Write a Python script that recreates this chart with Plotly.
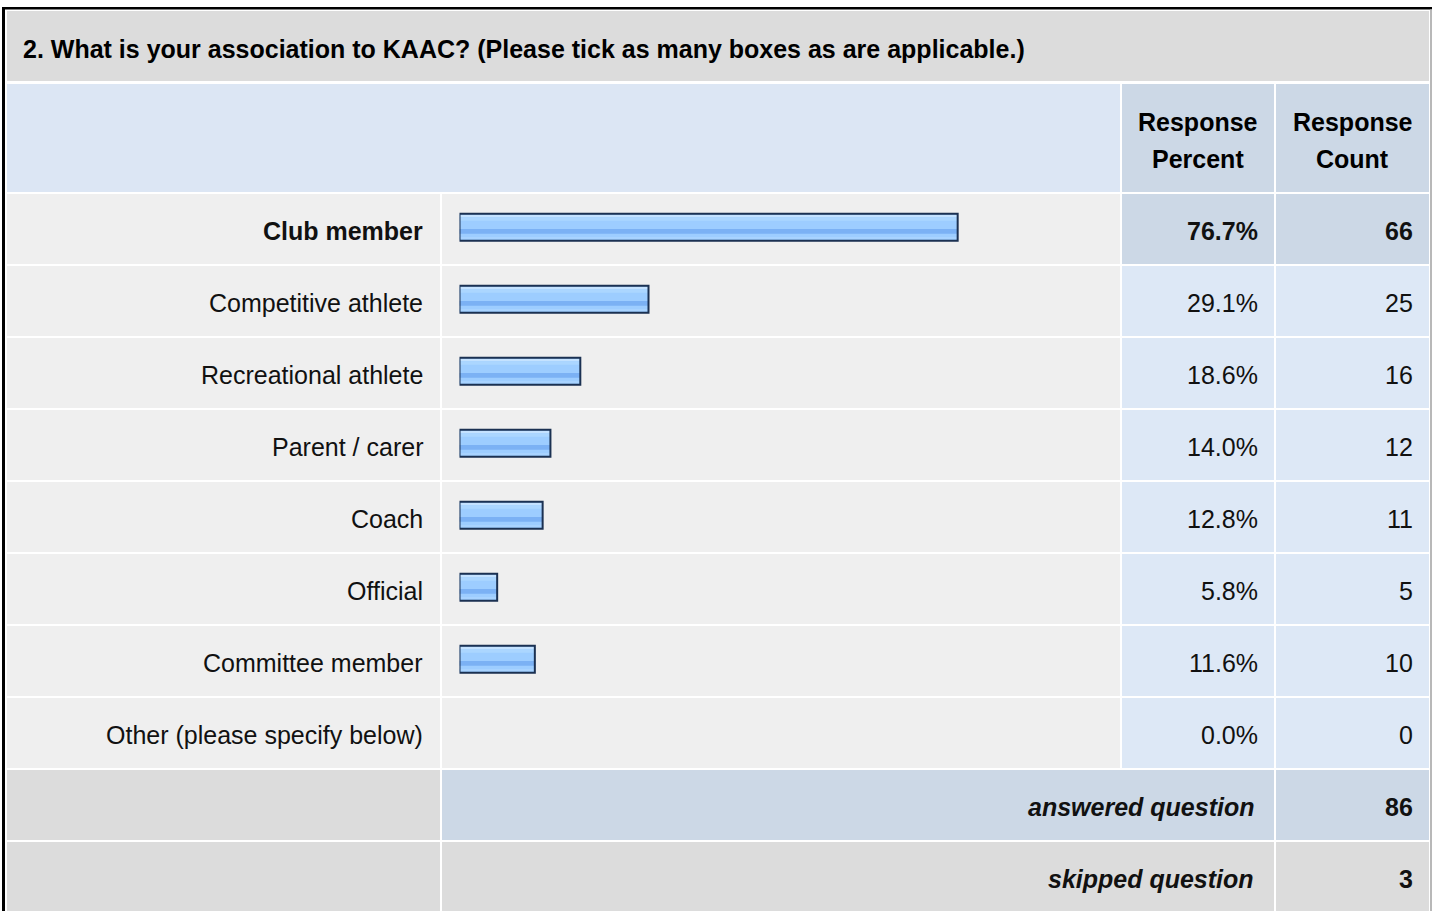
import plotly.graph_objects as go

# ---------------- data ----------------
title_text = "2. What is your association to KAAC? (Please tick as many boxes as are applicable.)"
categories = ["Club member", "Competitive athlete", "Recreational athlete", "Parent / carer",
              "Coach", "Official", "Committee member", "Other (please specify below)"]
percents = [76.7, 29.1, 18.6, 14.0, 12.8, 5.8, 11.6, 0.0]
counts = [66, 25, 16, 12, 11, 5, 10, 0]
header_cols = [["Response", "Percent"], ["Response", "Count"]]
summary_labels = ["answered question", "skipped question"]
summary_values = [86, 3]

# ---------------- layout geometry (pixels) ----------------
W, H = 1432, 911
FONT = "Liberation Sans, Arial, sans-serif"
FS = 25
COL_LABEL = (7, 440)
COL_BAR = (442, 1120)
COL_PCT = (1122, 1274)
COL_CNT = (1276, 1429)
TITLE_Y = (11, 81)
HEAD_Y = (84, 192)
ROW0 = 194
PITCH = 72
CELL_H = 70
PAD = 3  # annotation inner padding compensation

GRAY = "#DCDCDC"
LIGHT = "#EFEFEF"
HEAD_BLUE = "#DCE6F4"
DARK_BLUE = "#CCD8E6"
PALE_BLUE = "#DDE8F6"

hi = counts.index(max(counts))


def px(x):
    return x / W


shapes = []


def cell(x0, x1, y0, y1, color):
    shapes.append(dict(type="rect", xref="paper", yref="y", x0=px(x0), x1=px(x1), y0=y0, y1=y1,
                       fillcolor=color, line=dict(width=0), layer="below"))


# outer border
shapes.append(dict(type="rect", xref="paper", yref="y", x0=px(2), x1=px(5), y0=7, y1=H,
                   fillcolor="#000000", line=dict(width=0), layer="below"))
shapes.append(dict(type="rect", xref="paper", yref="y", x0=px(2), x1=px(1432), y0=7, y1=9.5,
                   fillcolor="#000000", line=dict(width=0), layer="below"))
shapes.append(dict(type="rect", xref="paper", yref="y", x0=px(1430), x1=px(1432), y0=9.5, y1=H,
                   fillcolor="#B8B8B8", line=dict(width=0), layer="below"))

# title row
cell(COL_LABEL[0], COL_CNT[1], TITLE_Y[0], TITLE_Y[1], GRAY)
# header row
cell(COL_LABEL[0], COL_BAR[1], HEAD_Y[0], HEAD_Y[1], HEAD_BLUE)
cell(COL_PCT[0], COL_PCT[1], HEAD_Y[0], HEAD_Y[1], DARK_BLUE)
cell(COL_CNT[0], COL_CNT[1], HEAD_Y[0], HEAD_Y[1], DARK_BLUE)

annotations = []


def text(x, y, s, anchor="right", bold=False, italic=False, size=FS, color="#111111"):
    t = s
    if bold:
        t = "<b>" + t + "</b>"
    if italic:
        t = "<i>" + t + "</i>"
    if anchor == "right":
        x = x + PAD
    elif anchor == "left":
        x = x - PAD
    annotations.append(dict(xref="paper", yref="y", x=px(x), y=y, text=t, showarrow=False,
                            xanchor=anchor, yanchor="middle",
                            font=dict(family=FONT, size=size, color=color)))


text(24, 49, title_text, anchor="left", bold=True, color="#000000")
for j, (col, lines) in enumerate(zip([COL_PCT, COL_CNT], header_cols)):
    cx = (col[0] + col[1]) / 2
    text(cx, 122, lines[0], anchor="center", bold=True, color="#000000")
    text(cx, 159, lines[1], anchor="center", bold=True, color="#000000")

row_centers = []
for i, (cat, p, c) in enumerate(zip(categories, percents, counts)):
    y0 = ROW0 + PITCH * i
    y1 = y0 + CELL_H
    yc = (y0 + y1) / 2
    row_centers.append(yc)
    cell(COL_LABEL[0], COL_LABEL[1], y0, y1, LIGHT)
    cell(COL_BAR[0], COL_BAR[1], y0, y1, LIGHT)
    bcol = DARK_BLUE if i == hi else PALE_BLUE
    cell(COL_PCT[0], COL_PCT[1], y0, y1, bcol)
    cell(COL_CNT[0], COL_CNT[1], y0, y1, bcol)
    b = (i == hi)
    text(422, yc + 1.5, cat, bold=b)
    text(1257, yc + 1.5, f"{p:.1f}%", bold=b)
    text(1412, yc + 1.5, str(c), bold=b)

# summary rows
n = len(categories)
for k, (lab, val) in enumerate(zip(summary_labels, summary_values)):
    y0 = ROW0 + PITCH * (n + k)
    y1 = y0 + CELL_H
    yc = (y0 + y1) / 2
    mid = DARK_BLUE if k == 0 else GRAY
    cell(COL_LABEL[0], COL_LABEL[1], y0, y1, GRAY)
    cell(COL_BAR[0], COL_PCT[1], y0, y1, mid)
    cell(COL_CNT[0], COL_CNT[1], y0, y1, mid)
    text(1253, yc + 1.5, lab, bold=True, italic=True)
    text(1412, yc + 1.5, str(val), bold=True)

# ---------------- bars ----------------
bx = [p for p in percents if p > 0]
by = [row_centers[i] - 1.8 for i, p in enumerate(percents) if p > 0]

fig = go.Figure()
layers = [
    # (offset, width, color)
    (-13.5, 27.0, "#9DCDFF"),
    (-12.2, 2.3, "#C4E2FF"),
    (-9.9, 3.4, "#ABD6FF"),
    (1.8, 4.7, "#7BB1F4"),
    (9.8, 2.3, "#A8D3FF"),
]
for off, w, col in layers:
    fig.add_trace(go.Bar(x=bx, y=by, orientation="h", offset=off, width=w,
                         marker=dict(color=col, line=dict(width=0)),
                         hoverinfo="skip", showlegend=False))
fig.add_trace(go.Bar(x=bx, y=by, orientation="h", offset=-13.5, width=27.0,
                     marker=dict(color="rgba(0,0,0,0)", line=dict(width=2, color="#1B3152")),
                     hoverinfo="skip", showlegend=False))

fig.update_layout(
    width=W, height=H, margin=dict(l=0, r=0, t=0, b=0),
    paper_bgcolor="#FFFFFF", plot_bgcolor="rgba(0,0,0,0)",
    barmode="overlay", showlegend=False,
    xaxis=dict(domain=[px(459.5), px(1109)], range=[0, 100], visible=False, fixedrange=True),
    yaxis=dict(domain=[0, 1], range=[H, 0], visible=False, fixedrange=True),
    shapes=shapes, annotations=annotations,
)

fig.write_html("out.html", config={"displayModeBar": False, "staticPlot": True},
               post_script="document.body.style.margin='0';document.body.style.overflow='hidden';")
